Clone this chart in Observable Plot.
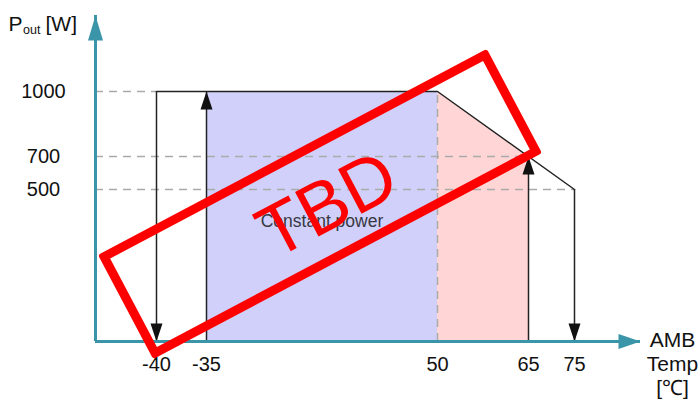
<!DOCTYPE html>
<html><head><meta charset="utf-8">
<script src="https://cdn.jsdelivr.net/npm/d3@7"></script>
<script src="https://cdn.jsdelivr.net/npm/@observablehq/plot@0.6"></script>
<style>
body{margin:0;background:#fff;}
#wrap{position:relative;width:698px;height:401px;overflow:hidden;}
#stamp{position:absolute;box-sizing:border-box;width:440px;height:118px;left:100px;top:144.5px;border:9px solid #ff0000;border-radius:3px;transform:rotate(-27.9deg);display:flex;align-items:center;justify-content:center;font-family:"Liberation Sans",Arial,sans-serif;font-size:73px;color:#ff0000;line-height:1;pointer-events:none;}
#stamp span{position:relative;left:6px;top:2px;}
</style></head><body>
<div id="wrap"><div id="stamp"><span>TBD</span></div></div>
<script>
// ---- data ----
const temps = [-40, -35, 50, 65, 75];
const tempLabels = ["-40", "-35", "50", "65", "75"];
const powerTicks = [1000, 700, 500];
const powerLabels = ["1000", "700", "500"];
const guideEndTemps = [-40, 65, 75];          // where the dashed guide of each tick ends
const curveTemps = [-40, 50, 75];              // derating curve
const curvePowers = [1000, 1000, 500];
const constantTemps = [-35, 50];               // constant power region
const constantPowers = [1000, 1000];
const deratingTemps = [50, 65];                // derating region
const deratingPowers = [1000, 700];
const downArrowTemps = [-40, 75];
const downArrowPowers = [1000, 500];
const upArrowTemps = [-35, 65];
const upArrowPowers = [1000, 700];
const breakTemp = 50;
const constantLabel = "Constant power";
const constantLabelPower = 395;
const xTitle = "AMB\nTemp\n[℃]";

// axis extents
const axisXMin = -46, axisXMax = 88, axisYMax = 1300;

const zip = (a, b) => a.map((t, i) => ({t, p: b[i]}));
const teal = "#3b95a8";
const font = '"Liberation Sans", Arial, Helvetica, sans-serif';
const triangle = {draw(c, l, r) { c.moveTo(0, 0); c.lineTo(-r, l); c.lineTo(r, l); c.closePath(); }};

const chart = Plot.plot({
  width: 698, height: 401,
  marginLeft: 95, marginRight: 58, marginTop: 15, marginBottom: 60,
  style: {fontFamily: font, background: "white", overflow: "visible"},
  x: {type: "linear", domain: [axisXMin, ...temps, axisXMax], range: [95, 156, 206, 437, 528, 574, 640], axis: null},
  y: {type: "linear", domain: [0, 500, 700, 1000, axisYMax], range: [341, 189, 156, 91, 15], axis: null},
  marks: [
    Plot.areaY(zip(constantTemps, constantPowers), {x: "t", y: "p", fill: "#d0d0fa"}),
    Plot.areaY(zip(deratingTemps, deratingPowers), {x: "t", y: "p", fill: "#ffd5d5"}),
    Plot.ruleY(zip(guideEndTemps, powerTicks), {y: "p", x1: axisXMin, x2: "t", stroke: "#aaa", strokeWidth: 1.5, strokeDasharray: "8,6"}),
    Plot.ruleX([breakTemp], {x: d => d, y1: 0, y2: curvePowers[1], stroke: "#aaa", strokeWidth: 1.5, strokeDasharray: "8,6"}),
    Plot.line(zip(curveTemps, curvePowers), {x: "t", y: "p", stroke: "#222", strokeWidth: 1.5}),
    Plot.ruleX(zip(downArrowTemps, downArrowPowers), {x: "t", y1: 0, y2: "p", stroke: "#222", strokeWidth: 1.5}),
    Plot.ruleX(zip(upArrowTemps, upArrowPowers), {x: "t", y1: 0, y2: "p", stroke: "#222", strokeWidth: 1.5}),
    Plot.vector(zip(upArrowTemps, upArrowPowers), {x: "t", y: "p", length: 18, r: 6, anchor: "start", shape: triangle, fill: "#111", stroke: "none"}),
    Plot.vector(zip(downArrowTemps, downArrowTemps.map(() => 0)), {x: "t", y: "p", length: 18, r: 6, rotate: 180, anchor: "start", shape: triangle, fill: "#111", stroke: "none"}),
    // axes
    Plot.ruleY([0], {y: d => d, x1: axisXMin, x2: axisXMax, stroke: teal, strokeWidth: 3}),
    Plot.ruleX([axisXMin], {x: d => d, y1: 0, y2: axisYMax, stroke: teal, strokeWidth: 3}),
    Plot.vector([{t: axisXMin, p: axisYMax}], {x: "t", y: "p", length: 25, r: 7.5, anchor: "start", shape: triangle, fill: teal, stroke: "none"}),
    Plot.vector([{t: axisXMax, p: 0}], {x: "t", y: "p", length: 22, r: 7.5, rotate: 90, anchor: "start", shape: triangle, fill: teal, stroke: "none"}),
    // tick labels
    Plot.text(powerTicks, {x: () => axisXMin, y: d => d, text: (d, i) => powerLabels[i], dx: -52, textAnchor: "middle", fontSize: 20, fill: "#111"}),
    Plot.text(temps, {x: d => d, y: () => 0, text: (d, i) => tempLabels[i], dy: 23, textAnchor: "middle", fontSize: 20, fill: "#111"}),
    // axis titles
    Plot.text(["P"], {x: () => axisXMin, y: () => axisYMax, text: d => d, dx: -87, dy: 15, lineAnchor: "bottom", textAnchor: "start", fontSize: 21, fill: "#111"}),
    Plot.text(["out"], {x: () => axisXMin, y: () => axisYMax, text: d => d, dx: -72.5, dy: 18, lineAnchor: "bottom", textAnchor: "start", fontSize: 12.5, fill: "#111"}),
    Plot.text(["[W]"], {x: () => axisXMin, y: () => axisYMax, text: d => d, dx: -50, dy: 15, lineAnchor: "bottom", textAnchor: "start", fontSize: 21, fill: "#111"}),
    Plot.text([xTitle], {x: () => axisXMax, y: () => 0, text: d => d, dx: 32, dy: -12, lineAnchor: "top", textAnchor: "middle", lineHeight: 1.15, fontSize: 21, fill: "#111"}),
    Plot.text([constantLabel], {x: () => (constantTemps[0] + constantTemps[1]) / 2, y: () => constantLabelPower, text: d => d, textAnchor: "middle", fontSize: 17.5, fill: "#383842"})
  ]
});
const wrap = document.getElementById("wrap");
wrap.insertBefore(chart, wrap.firstChild);
</script>
</body></html>
